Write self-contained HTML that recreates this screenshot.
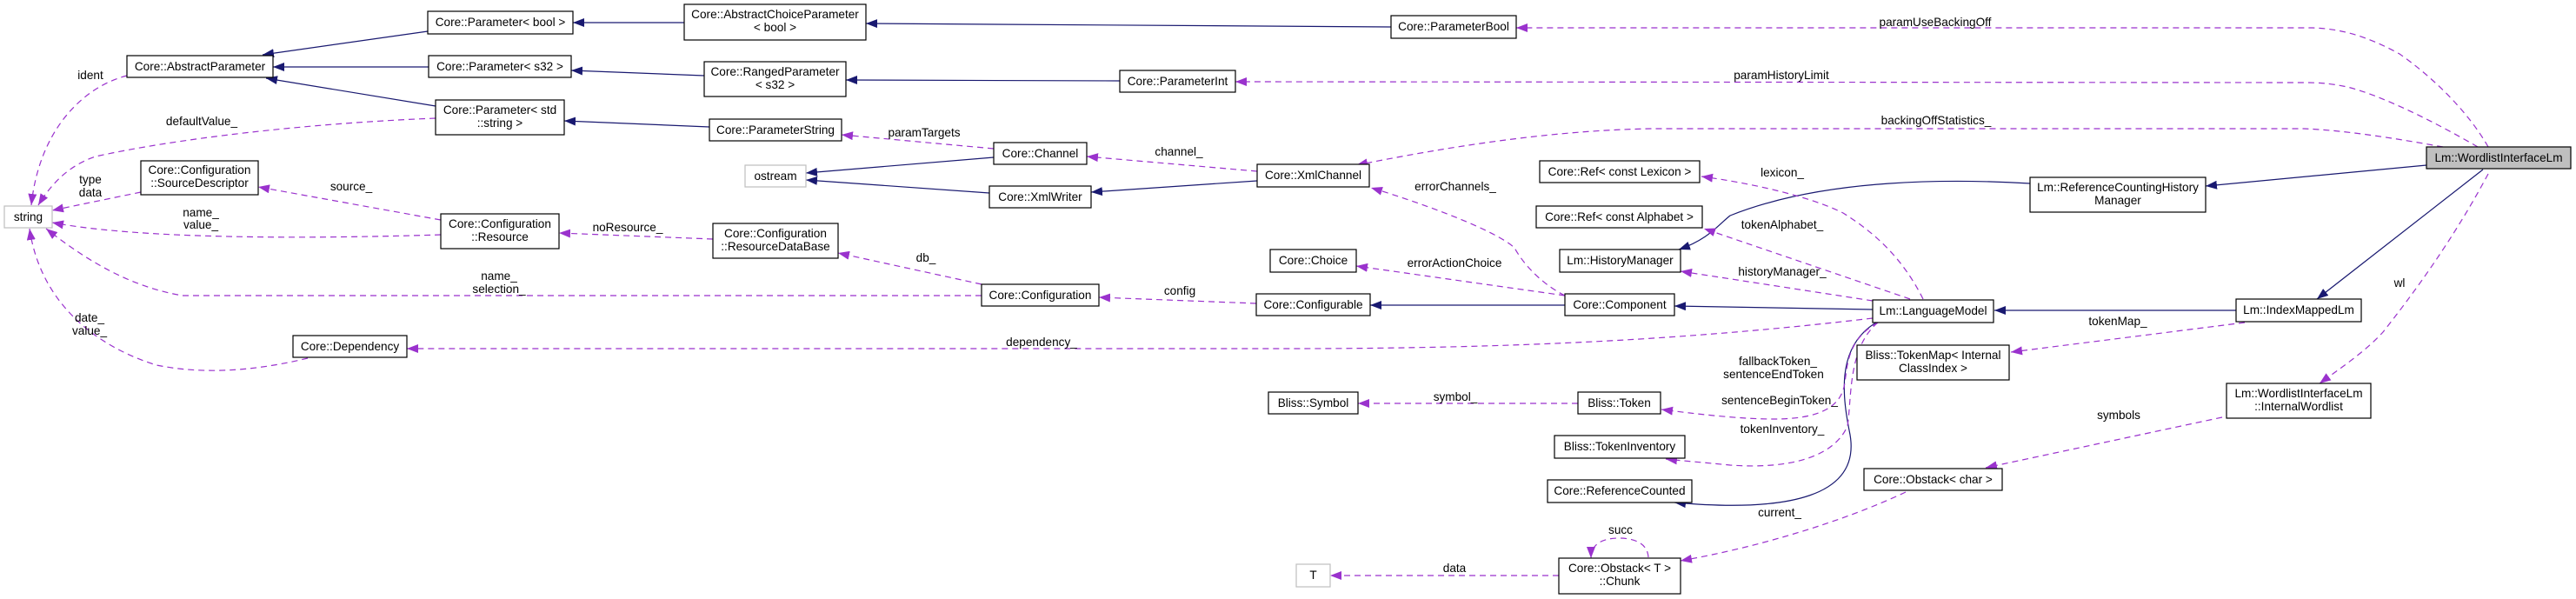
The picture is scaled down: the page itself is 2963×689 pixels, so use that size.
<!DOCTYPE html>
<html><head><meta charset="utf-8"><style>
html,body{margin:0;padding:0;background:#fff;}
svg{display:block;}
text{font-family:"Liberation Sans",Arial,sans-serif;font-size:13.6px;fill:#000;}
.b{fill:#fff;stroke:#000;stroke-width:1.2;}
.g{fill:#fff;stroke:#bfbfbf;stroke-width:1.2;}
.s{fill:none;stroke:#191970;stroke-width:1.2;}
.d{fill:none;stroke:#9a32cd;stroke-width:1.2;stroke-dasharray:7,5;}
</style></head><body>
<svg width="2963" height="689" viewBox="0 0 2963 689" xmlns="http://www.w3.org/2000/svg">
<defs>
<marker id="n" markerUnits="userSpaceOnUse" markerWidth="14" markerHeight="10" refX="13" refY="5" orient="auto"><path d="M0,0 L13,5 L0,10 z" fill="#191970"/></marker>
<marker id="p" markerUnits="userSpaceOnUse" markerWidth="14" markerHeight="10" refX="13" refY="5" orient="auto"><path d="M0,0 L13,5 L0,10 z" fill="#9a32cd"/></marker>
</defs>

<g class="s" marker-end="url(#n)">
<path d="M492,36 L302,63"/>
<path d="M493,77 L314,77"/>
<path d="M501,122 L306,90"/>
<path d="M787,26 L659,26"/>
<path d="M810,87 L657,81"/>
<path d="M816,146 L649,139"/>
<path d="M1600,31 L996,27"/>
<path d="M1288,93 L973,92"/>
<path d="M1143,181 L927,199"/>
<path d="M1138,222 L927,207"/>
<path d="M1446,208 L1255,221"/>
<path d="M1800,351 L1576,351"/>
<path d="M2154,356 L1926,352"/>
<path d="M2572,357 L2294,357"/>
<path d="M2791,190 L2537,214"/>
<path d="M2856,195 L2665,344"/>
<path d="M2335,211 C2250,206 2100,204 1990,248 C1975,260 1965,275 1931,287"/>
<path d="M2158,371 C2110,400 2120,460 2128,500 C2140,570 2060,590 1926,578"/>
</g>

<g class="d" marker-end="url(#p)">
<path d="M146,87 C95,100 45,150 36,236"/>
<path d="M501,136 C350,142 200,160 110,180 C80,190 60,210 44,236"/>
<path d="M162,221 L60,242"/>
<path d="M507,270 C350,275 160,275 60,256"/>
<path d="M1129,340 L210,340 C150,330 100,300 53,263"/>
<path d="M354,412 C300,425 240,432 180,420 C100,395 45,340 34,263"/>
<path d="M507,253 L297,215"/>
<path d="M820,275 L643,268"/>
<path d="M1129,327 L964,291"/>
<path d="M1445,349 L1264,342"/>
<path d="M1143,171 L968,155"/>
<path d="M1446,197 L1250,180"/>
<path d="M1800,340 C1770,325 1750,300 1742,285 C1720,265 1640,235 1577,216"/>
<path d="M1800,340 L1560,306"/>
<path d="M2154,366 C1950,390 1750,401 1480,401 L468,401"/>
<path d="M2154,346 L1933,312"/>
<path d="M2197,344 L1960,263"/>
<path d="M2212,344 C2190,300 2160,270 2120,245 C2080,225 2010,210 1957,203"/>
<path d="M2160,371 C2125,390 2125,420 2122,440 C2118,470 2090,482 2040,482 C2000,482 1950,476 1911,471"/>
<path d="M2160,371 C2125,400 2130,460 2125,490 C2110,525 2060,540 1990,535 C1960,532 1935,530 1916,528"/>
<path d="M2582,371 L2313,405"/>
<path d="M2862,169 C2840,130 2800,90 2760,62 C2720,40 2690,33 2660,32 L1744,32"/>
<path d="M2850,169 C2800,140 2740,110 2700,100 C2680,96 2670,95 2650,95 L1421,94"/>
<path d="M2810,169 C2760,160 2700,150 2650,148 L1900,148 C1780,150 1660,170 1560,190"/>
<path d="M2862,200 C2830,260 2790,320 2741,382 C2720,405 2690,425 2668,441"/>
<path d="M2556,480 L2284,538"/>
<path d="M2192,566 C2120,600 2020,630 1933,645"/>
<path d="M1896,641 C1895,625 1880,619 1862,619 C1840,619 1830,628 1830,642"/>
<path d="M1793,662 L1530,662"/>
<path d="M1815,464 L1562,464"/>
</g>

<rect class="g" x="5" y="237" width="55" height="25"/><text x="32.5" y="254" text-anchor="middle">string</text>
<rect class="b" x="146" y="64" width="168" height="25"/><text x="230" y="81" text-anchor="middle">Core::AbstractParameter</text>
<rect class="b" x="492" y="13" width="167" height="26"/><text x="575.5" y="30" text-anchor="middle">Core::Parameter&lt; bool &gt;</text>
<rect class="b" x="493" y="64" width="164" height="25"/><text x="575" y="81" text-anchor="middle">Core::Parameter&lt; s32 &gt;</text>
<rect class="b" x="501" y="115" width="148" height="40"/><text x="575" y="131" text-anchor="middle">Core::Parameter&lt; std</text><text x="575" y="146" text-anchor="middle">::string &gt;</text>
<rect class="b" x="162" y="185" width="135" height="39"/><text x="229.5" y="200" text-anchor="middle">Core::Configuration</text><text x="229.5" y="215" text-anchor="middle">::SourceDescriptor</text>
<rect class="b" x="507" y="246" width="136" height="40"/><text x="575" y="262" text-anchor="middle">Core::Configuration</text><text x="575" y="277" text-anchor="middle">::Resource</text>
<rect class="b" x="337" y="386" width="131" height="25"/><text x="402.5" y="403" text-anchor="middle">Core::Dependency</text>
<rect class="b" x="787" y="5" width="209" height="41"/><text x="891.5" y="21" text-anchor="middle">Core::AbstractChoiceParameter</text><text x="891.5" y="36" text-anchor="middle">&lt; bool &gt;</text>
<rect class="b" x="810" y="71" width="163" height="40"/><text x="891.5" y="87" text-anchor="middle">Core::RangedParameter</text><text x="891.5" y="102" text-anchor="middle">&lt; s32 &gt;</text>
<rect class="b" x="816" y="137" width="152" height="25"/><text x="892" y="154" text-anchor="middle">Core::ParameterString</text>
<rect class="g" x="857" y="190" width="70" height="25"/><text x="892" y="207" text-anchor="middle">ostream</text>
<rect class="b" x="1143" y="164" width="107" height="25"/><text x="1196.5" y="181" text-anchor="middle">Core::Channel</text>
<rect class="b" x="1138" y="214" width="117" height="25"/><text x="1196.5" y="231" text-anchor="middle">Core::XmlWriter</text>
<rect class="b" x="820" y="257" width="144" height="40"/><text x="892" y="273" text-anchor="middle">Core::Configuration</text><text x="892" y="288" text-anchor="middle">::ResourceDataBase</text>
<rect class="b" x="1129" y="327" width="135" height="25"/><text x="1196.5" y="344" text-anchor="middle">Core::Configuration</text>
<rect class="b" x="1288" y="81" width="133" height="25"/><text x="1354.5" y="98" text-anchor="middle">Core::ParameterInt</text>
<rect class="b" x="1600" y="18" width="144" height="26"/><text x="1672" y="35" text-anchor="middle">Core::ParameterBool</text>
<rect class="b" x="1446" y="189" width="129" height="26"/><text x="1510.5" y="206" text-anchor="middle">Core::XmlChannel</text>
<rect class="b" x="1461" y="287" width="99" height="26"/><text x="1510.5" y="304" text-anchor="middle">Core::Choice</text>
<rect class="b" x="1445" y="338" width="131" height="25"/><text x="1510.5" y="355" text-anchor="middle">Core::Configurable</text>
<rect class="b" x="1800" y="338" width="126" height="25"/><text x="1863" y="355" text-anchor="middle">Core::Component</text>
<rect class="b" x="1771" y="185" width="184" height="25"/><text x="1863" y="202" text-anchor="middle">Core::Ref&lt; const Lexicon &gt;</text>
<rect class="b" x="1767" y="237" width="191" height="25"/><text x="1862.5" y="254" text-anchor="middle">Core::Ref&lt; const Alphabet &gt;</text>
<rect class="b" x="1794" y="287" width="139" height="26"/><text x="1863.5" y="304" text-anchor="middle">Lm::HistoryManager</text>
<rect class="b" x="2154" y="345" width="139" height="26"/><text x="2223.5" y="362" text-anchor="middle">Lm::LanguageModel</text>
<rect class="b" x="2136" y="397" width="175" height="40"/><text x="2223.5" y="413" text-anchor="middle">Bliss::TokenMap&lt; Internal</text><text x="2223.5" y="428" text-anchor="middle">ClassIndex &gt;</text>
<rect class="b" x="1459" y="451" width="103" height="25"/><text x="1510.5" y="468" text-anchor="middle">Bliss::Symbol</text>
<rect class="b" x="1815" y="451" width="95" height="25"/><text x="1862.5" y="468" text-anchor="middle">Bliss::Token</text>
<rect class="b" x="1788" y="501" width="150" height="26"/><text x="1863" y="518" text-anchor="middle">Bliss::TokenInventory</text>
<rect class="b" x="1780" y="552" width="166" height="26"/><text x="1863" y="569" text-anchor="middle">Core::ReferenceCounted</text>
<rect class="b" x="2144" y="539" width="159" height="25"/><text x="2223.5" y="556" text-anchor="middle">Core::Obstack&lt; char &gt;</text>
<rect class="b" x="1793" y="642" width="140" height="41"/><text x="1863" y="658" text-anchor="middle">Core::Obstack&lt; T &gt;</text><text x="1863" y="673" text-anchor="middle">::Chunk</text>
<rect class="g" x="1491" y="649" width="39" height="26"/><text x="1510.5" y="666" text-anchor="middle">T</text>
<rect x="2791" y="169" width="166" height="25" fill="#bfbfbf" stroke="#000" stroke-width="1.2"/><text x="2874" y="186" text-anchor="middle">Lm::WordlistInterfaceLm</text>
<rect class="b" x="2335" y="204" width="202" height="40"/><text x="2436" y="220" text-anchor="middle">Lm::ReferenceCountingHistory</text><text x="2436" y="235" text-anchor="middle">Manager</text>
<rect class="b" x="2572" y="344" width="144" height="26"/><text x="2644" y="361" text-anchor="middle">Lm::IndexMappedLm</text>
<rect class="b" x="2561" y="441" width="166" height="40"/><text x="2644" y="457" text-anchor="middle">Lm::WordlistInterfaceLm</text><text x="2644" y="472" text-anchor="middle">::InternalWordlist</text>

<g text-anchor="middle">
<text x="104" y="91">ident</text>
<text x="232" y="144">defaultValue_</text>
<text x="104" y="211">type</text><text x="104" y="226">data</text>
<text x="404" y="219">source_</text>
<text x="231" y="249">name_</text><text x="231" y="263">value_</text>
<text x="722" y="266">noResource_</text>
<text x="574" y="322">name_</text><text x="574" y="337">selection_</text>
<text x="103" y="370">date_</text><text x="103" y="385">value_</text>
<text x="1063" y="157">paramTargets</text>
<text x="1356" y="179">channel_</text>
<text x="1065" y="301">db_</text>
<text x="1357" y="339">config</text>
<text x="1198" y="398">dependency_</text>
<text x="2226" y="30">paramUseBackingOff</text>
<text x="2049" y="91">paramHistoryLimit</text>
<text x="2227" y="143">backingOffStatistics_</text>
<text x="1674" y="219">errorChannels_</text>
<text x="1673" y="307">errorActionChoice</text>
<text x="2050" y="203">lexicon_</text>
<text x="2050" y="263">tokenAlphabet_</text>
<text x="2050" y="317">historyManager_</text>
<text x="2045" y="420">fallbackToken_</text><text x="2040" y="435">sentenceEndToken</text>
<text x="2047" y="465">sentenceBeginToken_</text>
<text x="2050" y="498">tokenInventory_</text>
<text x="1674" y="461">symbol_</text>
<text x="2047" y="594">current_</text>
<text x="1864" y="614">succ</text>
<text x="1673" y="658">data</text>
<text x="2760" y="330">wl</text>
<text x="2436" y="374">tokenMap_</text>
<text x="2437" y="482">symbols</text>
</g>
</svg>
</body></html>
